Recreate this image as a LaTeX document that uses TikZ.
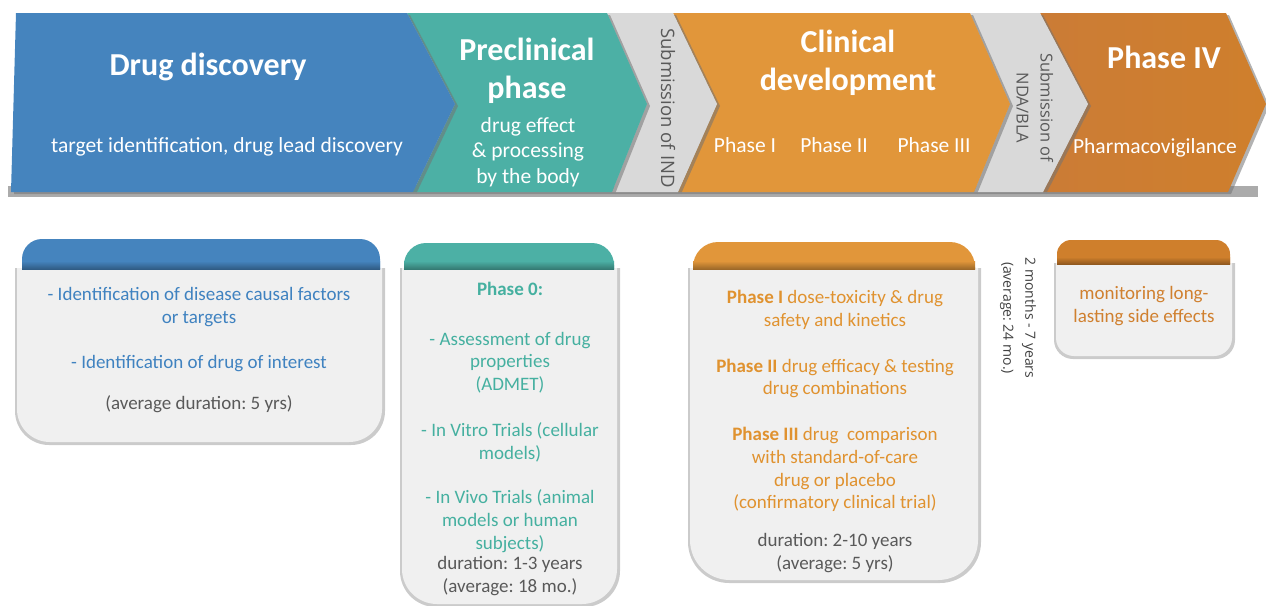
\documentclass[tikz,border=0pt]{standalone}
\usepackage{fontspec}
\setmainfont{Carlito}
\newfontfamily\osans{Open Sans}
\frenchspacing
\definecolor{cblue}{HTML}{4584BE}
\definecolor{cteal}{HTML}{4CB0A5}
\definecolor{corange}{HTML}{E1963A}
\definecolor{cdorange}{HTML}{CF7F2C}
\definecolor{cdorangeL}{HTML}{CB7C36}
\definecolor{cgray}{HTML}{D9D9D9}
\definecolor{cband}{HTML}{ABABAB}
\definecolor{cbody}{HTML}{F0F0F0}
\definecolor{ctext}{HTML}{595959}
\definecolor{cvtext}{HTML}{404040}
\definecolor{cbluet}{HTML}{3F82C0}
\definecolor{ctealt}{HTML}{45B0A0}
\definecolor{corant}{HTML}{E0922F}
\definecolor{cdorat}{HTML}{D0802F}
\tikzset{
  title/.style={font=\fontsize{32}{38}\selectfont\bfseries, text=white, anchor=base, inner sep=0pt},
  sub/.style={font=\fontsize{21.5}{25.5}\selectfont, text=white, anchor=base, inner sep=0pt},
  vert/.style={font=\osans\fontsize{17}{22}\selectfont, text=ctext, rotate=-90, align=center, inner sep=0pt},
  btxt/.style={font=\fontsize{19}{22.7}\selectfont, anchor=base, inner sep=0pt},
  shad/.style={fill=black!55, opacity=0.55},
  bodyshad/.style={fill=black!45, opacity=0.45},
}
\begin{document}
\begin{tikzpicture}[x=1pt,y=-1pt]
\useasboundingbox (0,0) rectangle (1266,605);
% banner base shadow band
\fill[cband] (8,186) rectangle (1258,197);
% dark orange
\fill[shad,xshift=3pt,yshift=-2pt] (1040,13) -- (1226,13) -- (1266,104) -- (1228,192) -- (1043,192) -- (1088,104) -- cycle;
\shade[left color=cdorangeL, right color=cdorange] (1040,13) -- (1226,13) -- (1266,104) -- (1228,192) -- (1043,192) -- (1088,104) -- cycle;
% gray 2
\fill[shad,xshift=3pt,yshift=-2pt] (970,13) -- (1040,13) -- (1088,104) -- (1043,192) -- (974,192) -- (1010,104) -- cycle;
\fill[cgray] (970,13) -- (1040,13) -- (1088,104) -- (1043,192) -- (974,192) -- (1010,104) -- cycle;
% orange
\fill[shad,xshift=3pt,yshift=-2pt] (673,13) -- (970,13) -- (1010,104) -- (974,192) -- (678,192) -- (717,104) -- cycle;
\fill[corange] (673,13) -- (970,13) -- (1010,104) -- (974,192) -- (678,192) -- (717,104) -- cycle;
% gray 1
\fill[shad,xshift=3pt,yshift=-2pt] (607,13) -- (673,13) -- (717,104) -- (678,192) -- (612,192) -- (647,104) -- cycle;
\fill[cgray] (607,13) -- (673,13) -- (717,104) -- (678,192) -- (612,192) -- (647,104) -- cycle;
% teal
\fill[shad,xshift=3pt,yshift=-2pt] (407,13) -- (607,13) -- (647,104) -- (612,192) -- (413,192) -- (455,104) -- cycle;
\fill[cteal] (407,13) -- (607,13) -- (647,104) -- (612,192) -- (413,192) -- (455,104) -- cycle;
% blue
\fill[shad,xshift=3pt,yshift=-2pt] (16,13) -- (407,13) -- (455,104) -- (413,192) -- (11,192) -- cycle;
\fill[cblue] (16,13) -- (407,13) -- (455,104) -- (413,192) -- (11,192) -- cycle;

% banner texts
\node[title] (t1) at (208,75) {Drug discovery};
\node[sub] (s1) at (227,152) {target identification, drug lead discovery};
\node[title] (t2) at (527,60) {Preclinical};
\node[title] (t2b) at (527,98) {phase};
\node[sub] (s2a) at (528,132) {drug effect};
\node[sub] (s2b) at (528,157) {\& processing};
\node[sub] (s2c) at (528,183) {by the body};
\node[vert, font=\osans\fontsize{18.5}{22}\selectfont] (ind) at (668,108) {Submission of IND};
\node[title] (t3) at (848,52) {Clinical};
\node[title] (t3b) at (848,90) {development};
\node[sub] (p1) at (745,152) {Phase I};
\node[sub] (p2) at (834,152) {Phase II};
\node[sub] (p3) at (934,152) {Phase III};
\node[vert, font=\osans\fontsize{16.5}{24}\selectfont] (nda) at (1035,108) {Submission of\\NDA/BLA};
\node[title] (t4) at (1164,68) {Phase IV};
\node[sub] (s4) at (1155,153) {Pharmacovigilance};

% ---------- box 1 (blue)
\fill[bodyshad,rounded corners=34] (15,268) -- (15,445) -- (385,445) -- (385,268);
\fill[cbody,rounded corners=33] (17,268) -- (17,442) -- (382,442) -- (382,268);
\fill[cblue,rounded corners=20] (22,269) -- (22,239) -- (380,239) -- (380,269);
\shade[top color=cblue, bottom color=cblue!70!black] (22,261) rectangle (380,269);
\node[btxt,text=cbluet] (b1a) at (199,300) {- Identification of disease causal factors};
\node[btxt,text=cbluet] (b1b) at (199,323) {or targets};
\node[btxt,text=cbluet] (b1c) at (199,368) {- Identification of drug of interest};
\node[btxt,text=ctext] (b1d) at (199,409) {(average duration: 5 yrs)};

% ---------- box 2 (teal)
\fill[bodyshad,rounded corners=36] (400,268) -- (400,607) -- (620,607) -- (620,268);
\fill[cbody,rounded corners=35] (402,268) -- (402,604) -- (617,604) -- (617,268);
\fill[cteal,rounded corners=22] (404,269) -- (404,243) -- (614,243) -- (614,269);
\shade[top color=cteal, bottom color=cteal!70!black] (404,261) rectangle (614,269);
\node[btxt,text=ctealt,font=\fontsize{19}{22.7}\selectfont\bfseries] (b2a) at (510,295) {Phase 0:};
\node[btxt,text=ctealt] (b2b) at (510,345) {- Assessment of drug};
\node[btxt,text=ctealt] (b2c) at (510,367) {properties};
\node[btxt,text=ctealt] (b2d) at (510,390) {(ADMET)};
\node[btxt,text=ctealt] (b2e) at (510,436) {- In Vitro Trials (cellular};
\node[btxt,text=ctealt] (b2f) at (510,459) {models)};
\node[btxt,text=ctealt] (b2g) at (510,503) {- In Vivo Trials (animal};
\node[btxt,text=ctealt] (b2h) at (510,526) {models or human};
\node[btxt,text=ctealt] (b2i) at (510,549) {subjects)};
\node[btxt,text=ctext] (b2j) at (510,569) {duration: 1-3 years};
\node[btxt,text=ctext] (b2k) at (510,592) {(average: 18 mo.)};

% ---------- box 3 (orange)
\fill[bodyshad,rounded corners=41] (688,268) -- (688,583) -- (981,583) -- (981,268);
\fill[cbody,rounded corners=40] (690,268) -- (690,580) -- (978,580) -- (978,268);
\fill[corange,rounded corners=25] (693,269) -- (693,242) -- (975,242) -- (975,269);
\shade[top color=corange, bottom color=corange!70!black] (693,261) rectangle (975,269);
\node[btxt,text=corant] (b3a) at (835,303) {\textbf{Phase I} dose-toxicity \& drug};
\node[btxt,text=corant] (b3b) at (835,326) {safety and kinetics};
\node[btxt,text=corant] (b3c) at (835,372) {\textbf{Phase II} drug efficacy \& testing};
\node[btxt,text=corant] (b3d) at (835,394) {drug combinations};
\node[btxt,text=corant] (b3e) at (835,440) {\textbf{Phase III} drug\ \ comparison};
\node[btxt,text=corant] (b3f) at (835,463) {with standard-of-care};
\node[btxt,text=corant] (b3g) at (835,486) {drug or placebo};
\node[btxt,text=corant] (b3h) at (835,508) {(confirmatory clinical trial)};
\node[btxt,text=ctext] (b3i) at (835,546) {duration: 2-10 years};
\node[btxt,text=ctext] (b3j) at (835,569) {(average: 5 yrs)};

% vertical duration
\node[vert, text=cvtext, font=\osans\fontsize{14}{22}\selectfont] (dur) at (1018,318) {2 months - 7 years\\(average: 24 mo.)};

% ---------- box 4 (dark orange)
\fill[bodyshad,rounded corners=19] (1054,263) -- (1054,359) -- (1235,359) -- (1235,263);
\fill[cbody,rounded corners=18] (1056,263) -- (1056,356) -- (1232,356) -- (1232,263);
\fill[cdorange,rounded corners=14] (1057,264) -- (1057,240) -- (1230,240) -- (1230,264);
\shade[top color=cdorange, bottom color=cdorange!70!black] (1057,257) rectangle (1230,264);
\node[btxt,text=cdorat] (b4a) at (1144,299) {monitoring long-};
\node[btxt,text=cdorat] (b4b) at (1144,322) {lasting side effects};
\end{tikzpicture}
\end{document}
